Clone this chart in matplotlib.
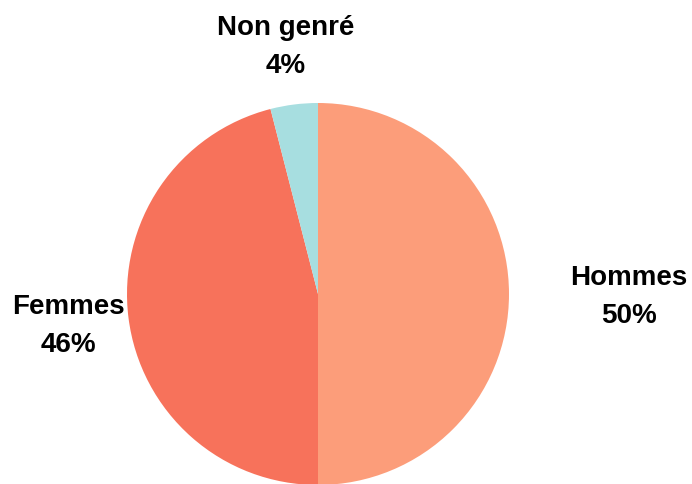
import matplotlib
matplotlib.use("Agg")
import matplotlib.pyplot as plt

# données
categories = ["Hommes", "Femmes", "Non genré"]
values = [50, 46, 4]
colors = ["#FC9D7A", "#F7725B", "#A7DEE0"]

plt.rcParams['font.family'] = ['Liberation Sans', 'DejaVu Sans']

fig = plt.figure(figsize=(6.92, 4.84), dpi=100)
ax = fig.add_axes([0, 0, 1, 1])

# camembert, sens horaire depuis le haut
ax.pie(values, colors=colors, startangle=90, counterclock=False,
       center=(318, 190), radius=191, frame=True,
       wedgeprops=dict(linewidth=0))
ax.axis('off')
ax.set_xlim(0, 692)
ax.set_ylim(0, 484)
ax.set_aspect('equal')

# étiquettes
label_pos = [(629, 187), (68, 158), (286, 437)]
for name, v, (x, y) in zip(categories, values, label_pos):
    ax.text(x, y, f"{name}\n{v}%", ha='center', va='center',
            fontsize=20, fontweight='bold', linespacing=1.62)

fig.savefig("out.png", dpi=100)
